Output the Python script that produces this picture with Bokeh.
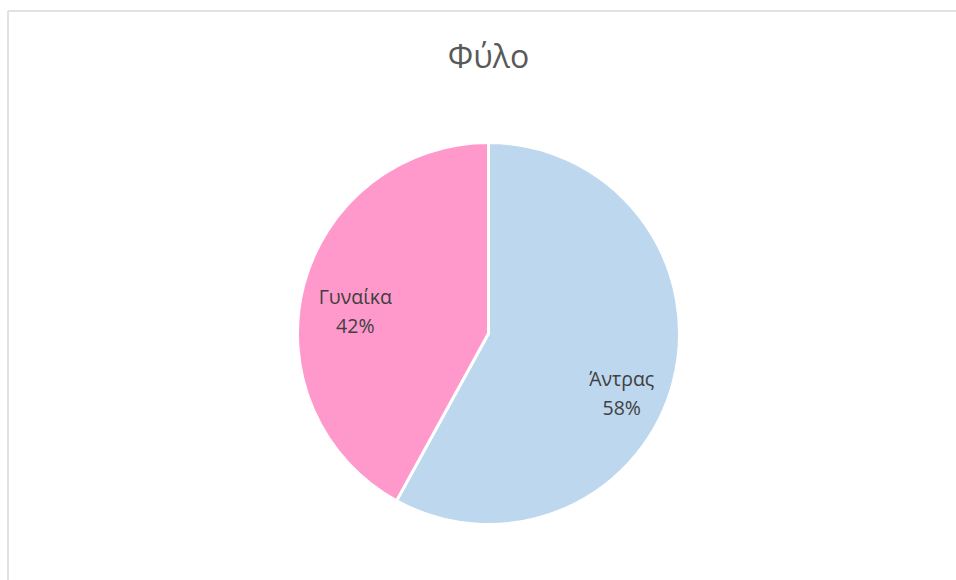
import numpy as np
from bokeh.plotting import figure
from bokeh.models import Range1d, ColumnDataSource
from bokeh.core.properties import value
from bokeh.embed import file_html
from bokeh.resources import INLINE

# Gender split
categories = ["Άντρας", "Γυναίκα"]
shares = [58, 42]
colors = ["#BDD7EE", "#FF99CC"]
title_text = "Φύλο"

W, H = 956, 580
CX, CY = 488, 333          # pie centre in page pixels
R = 191                    # pie radius in pixels

p = figure(width=W, height=H, output_backend="svg", toolbar_location=None,
           x_range=Range1d(-CX, W - CX), y_range=Range1d(-(H - CY), CY),
           min_border=0, outline_line_color=None)
p.axis.visible = False
p.grid.visible = False
p.background_fill_color = "white"
p.border_fill_color = "white"

# chart area frame (left and top edges visible)
p.segment(x0=[-480.5, -480.5], y0=[-300, 322.5], x1=[-480.5, 600], y1=[322.5, 322.5],
          line_color="#d9d9d9", line_width=1.5)

frac = np.array(shares, dtype=float) / sum(shares)
cum = np.concatenate([[0], np.cumsum(frac)])
start = np.pi / 2 - cum[:-1] * 2 * np.pi
end = np.pi / 2 - cum[1:] * 2 * np.pi
mid = (start + end) / 2

src = ColumnDataSource(dict(start=start, end=end, color=colors))
p.wedge(x=0, y=0, radius=R, start_angle="start", end_angle="end", direction="clock",
        fill_color="color", line_color="white", line_width=3, source=src)

# data labels along each slice's bisector
lr = 0.72 * R
lx = lr * np.cos(mid)
ly = lr * np.sin(mid)
yoff = [25, 12]
for i, cat in enumerate(categories):
    p.text(x=[lx[i]], y=[ly[i]], text=[cat], text_align="center", text_baseline="bottom",
           y_offset=yoff[i] - 1, text_font=value("Open Sans"), text_font_size="19.5px",
           text_color="#404040")
    p.text(x=[lx[i]], y=[ly[i]], text=[f"{shares[i]}%"], text_align="center",
           text_baseline="top", y_offset=yoff[i] + 1, text_font=value("Open Sans"),
           text_font_size="19.5px", text_color="#404040")

p.text(x=[0], y=[CY - 55], text=[title_text], text_align="center", text_baseline="middle",
       text_font=value("Open Sans"), text_font_size="32px", text_color="#595959")

open("out.html", "w").write(file_html(p, INLINE))
